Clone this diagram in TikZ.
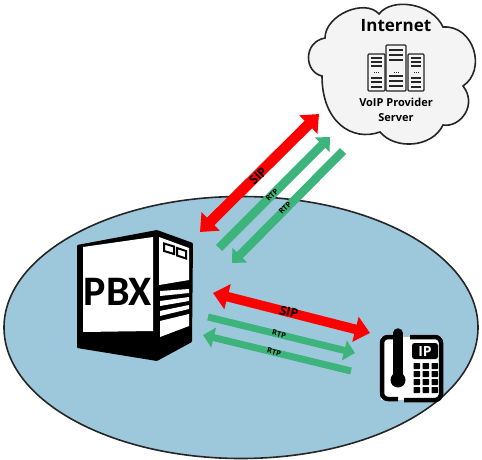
\documentclass[tikz,border=0pt]{standalone}
\usepackage{fontspec}
\setmainfont{Open Sans}
\newfontfamily\pbxfont{Carlito}
\usetikzlibrary{arrows.meta}
\definecolor{lanblue}{HTML}{9DC8DB}
\definecolor{rtpgreen}{HTML}{3CB47C}
\definecolor{sipred}{HTML}{FF0000}
\definecolor{cloudfill}{HTML}{F4F4F4}
\tikzset{
  sipboth/.style={draw=sipred,line width=10.5pt,{Triangle[length=15pt,width=25pt]}-{Triangle[length=15pt,width=25pt]}},
  rtpone/.style={draw=rtpgreen,line width=8.5pt,-{Triangle[length=11pt,width=20pt]}},
  siplabel/.style={font=\bfseries\fontsize{12.5}{13}\selectfont,inner sep=0pt},
  rtplabel/.style={font=\bfseries\fontsize{7.5}{8}\selectfont,inner sep=0pt},
  key/.style={fill=black,rounded corners=0.7pt},
}
\begin{document}
\begin{tikzpicture}[x=1pt,y=-1pt]
\useasboundingbox (0,0) rectangle (482,460);
% LAN ellipse
\draw[fill=lanblue,draw=black!85,line width=1.6pt] (241,327.5) ellipse [x radius=237,y radius=131];
% Cloud
\draw[fill=cloudfill,draw=black!85,line width=1.6pt]
 (322,76) .. controls (304,72) and (303,42) .. (325,38)
 .. controls (325,15) and (365,-2) .. (379,14)
 .. controls (392,-3) and (432,3) .. (443,27)
 .. controls (474,25) and (487,70) .. (463,86)
 .. controls (478,105) and (460,128) .. (443,125)
 .. controls (432,148) and (395,150) .. (380,132)
 .. controls (352,142) and (322,122) .. (322,76) -- cycle;
\node[font=\bfseries\fontsize{17}{17}\selectfont,inner sep=0pt] (inet) at (396,26) {Internet};
\node[font=\bfseries\fontsize{11}{15}\selectfont,align=center,inner sep=0pt] (voip) at (396,110) {VoIP Provider\\Server};
% Servers
\foreach \x/\yt/\yb/\w in {368/54/91/17,386/45/91/20,408/54/91/16}{
  \draw[fill=cloudfill,draw=black!85,line width=1.3pt,rounded corners=1pt] (\x,\yt) rectangle ++(\w,\yb-\yt);
}
\foreach \x/\w/\ys in {371/11/{58,62,66,78,82,87},389/14/{50,55,60,76,81,86},411/10/{58,62,66,78,82,87}}{
  \foreach \yy in \ys { \draw[black!85,line width=1.1pt] (\x,\yy) -- ++(\w,0); }
}
\foreach \x in {376,396,416}{ \draw[black!85,line width=.9pt,dash pattern=on 1pt off 1pt] (\x-2,72) -- ++(6,0); }
% PBX
\fill[black,rounded corners=1pt] (77,245) -- (157,230) -- (193,243) -- (192,342) -- (157,361) -- (77,348) -- cycle;
\fill[white] (83,247) -- (153,237) -- (153,331) -- (83,332) -- cycle;
\fill[white] (159,237) -- (189,248) -- (189,280) -- (159,285) -- cycle;
\fill[white] (160,291) -- (189,289) -- (189,293) -- (160,296) -- cycle;
\fill[white] (160,301) -- (189,297) -- (189,301) -- (160,306) -- cycle;
\fill[white] (160,311) -- (189,305) -- (189,309) -- (160,316) -- cycle;
\fill[white] (160,321) -- (189,314) -- (189,326) -- (160,337) -- cycle;
\draw[black,fill=white,line width=2pt] (164,243.5) -- (174,246.5) -- (174,254) -- (164,251) -- cycle;
\draw[black,fill=white,line width=2pt] (177,248) -- (186,251) -- (186,258.5) -- (177,255.5) -- cycle;
\node[font=\pbxfont\bfseries\fontsize{42}{42}\selectfont,inner sep=0pt] (pbx) at (118,292) {PBX};
% Phone
\fill[white] (381,337) rectangle (442,400);
\draw[black,line width=4.5pt,rounded corners=6pt] (396,337) -- (382,337) -- (382,399) -- (398,399);
\draw[black,line width=4.5pt,rounded corners=6pt] (410,337) -- (441,337) -- (441,400) -- (404,400);
\draw[black,line width=9.5pt,line cap=round] (398,333) -- (398,375);
\fill[black] (398,380) circle (7.5pt);
\node[fill=black,text=white,rounded corners=2.5pt,minimum width=26pt,minimum height=16pt,inner sep=0pt,font=\bfseries\fontsize{14}{14}\selectfont] (ip) at (425,351) {IP};
\foreach \r in {0,1,2,3}{\foreach \c in {0,1,2}{
  \fill[key] (413.5+\c*9,363+\r*8) rectangle ++(6.5,6);
}}
% Arrows
\coordinate (a1) at (319,114); \coordinate (a2) at (200,232);
\coordinate (b1) at (219,248); \coordinate (b2) at (330,137);
\coordinate (c1) at (343,151); \coordinate (c2) at (232,263);
\coordinate (d1) at (213,293); \coordinate (d2) at (370,333);
\coordinate (e1) at (208,317); \coordinate (e2) at (355,353);
\coordinate (f1) at (351,371); \coordinate (f2) at (203,335);
\draw[sipboth] (a1) -- (a2);
\draw[rtpone] (b1) -- (b2);
\draw[rtpone] (c1) -- (c2);
\draw[sipboth,line width=9.5pt] (d1) -- (d2);
\draw[rtpone,line width=7pt] (e1) -- (e2);
\draw[rtpone,line width=7pt] (f1) -- (f2);
\node[siplabel,rotate=45] (s1) at (258,176) {SIP};
\node[rtplabel,rotate=45] (r1) at (272,195) {RTP};
\node[rtplabel,rotate=45] (r2) at (285,208) {RTP};
\node[siplabel,rotate=-14] (s2) at (289,312) {SIP};
\node[rtplabel,rotate=-14] (r3) at (279,334) {RTP};
\node[rtplabel,rotate=-14] (r4) at (274,352) {RTP};
\end{tikzpicture}
\end{document}
